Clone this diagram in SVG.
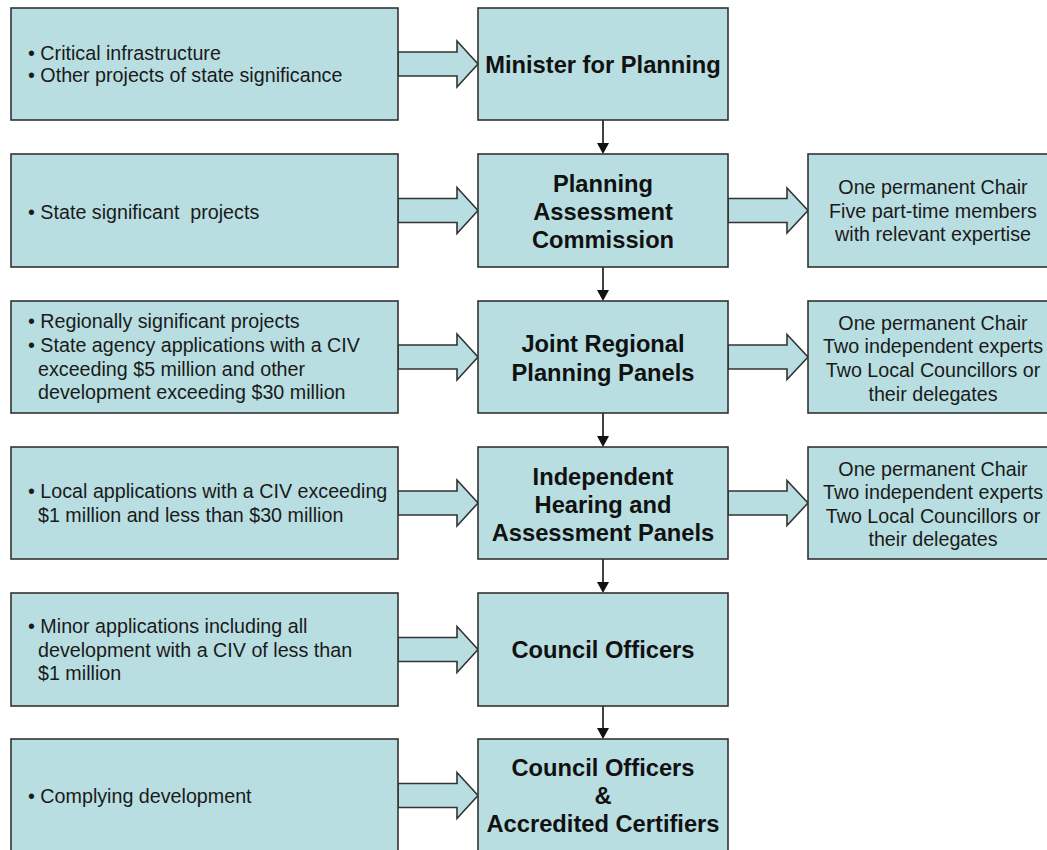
<svg xmlns="http://www.w3.org/2000/svg" width="1047" height="850" viewBox="0 0 1047 850">
<style>
.box{fill:#B8DEE1;stroke:#333;stroke-width:1.6}
.blk{fill:#B8DEE1;stroke:#333;stroke-width:1.6;stroke-linejoin:miter}
.ln{stroke:#111;stroke-width:1.6;fill:none}
.hd{fill:#111}
.t{font-family:"Liberation Sans",Arial,sans-serif;font-size:19.7px;fill:#1a1a1a}
.c{font-family:"Liberation Sans",Arial,sans-serif;font-size:23.7px;font-weight:bold;fill:#111;text-anchor:middle}
.r{font-family:"Liberation Sans",Arial,sans-serif;font-size:19.7px;fill:#1a1a1a;text-anchor:middle}
</style>
<rect width="1047" height="850" fill="#fff"/>
<g id="connectors">
<path class="blk" d="M398,52H457V41L478,64L457,87V76H398Z"/>
<path class="blk" d="M398,198.5H457V187.5L478,210.5L457,233.5V222.5H398Z"/>
<path class="blk" d="M398,345H457V334L478,357L457,380V369H398Z"/>
<path class="blk" d="M398,491H457V480L478,503L457,526V515H398Z"/>
<path class="blk" d="M398,637.5H457V626.5L478,649.5L457,672.5V661.5H398Z"/>
<path class="blk" d="M398,783.5H457V772.5L478,795.5L457,818.5V807.5H398Z"/>
<path class="blk" d="M728,198.5H787V188L808,210.5L787,233V222.5H728Z"/>
<path class="blk" d="M728,345H787V334.5L808,357L787,379.5V369H728Z"/>
<path class="blk" d="M728,491H787V480.5L808,503L787,525.5V515H728Z"/>
<line class="ln" x1="603" y1="120" x2="603" y2="143"/><polygon class="hd" points="597,143 609,143 603,154"/>
<line class="ln" x1="603" y1="267" x2="603" y2="290"/><polygon class="hd" points="597,290 609,290 603,301"/>
<line class="ln" x1="603" y1="413" x2="603" y2="436"/><polygon class="hd" points="597,436 609,436 603,447"/>
<line class="ln" x1="603" y1="559" x2="603" y2="582"/><polygon class="hd" points="597,582 609,582 603,593"/>
<line class="ln" x1="603" y1="706" x2="603" y2="728"/><polygon class="hd" points="597,728 609,728 603,739"/>
</g>
<g id="src1"><rect class="box" x="11" y="8" width="387" height="112"/>
<text class="t"><tspan x="28" y="60">• Critical infrastructure</tspan><tspan x="28" y="82.3">• Other projects of state significance</tspan></text></g>
<g id="src2"><rect class="box" x="11" y="154" width="387" height="113"/>
<text class="t" xml:space="preserve" style="white-space:pre"><tspan x="28" y="219">• State significant  projects</tspan></text></g>
<g id="src3"><rect class="box" x="11" y="301" width="387" height="112"/>
<text class="t"><tspan x="28" y="328.3">• Regionally significant projects</tspan><tspan x="28" y="351.7">• State agency applications with a CIV</tspan><tspan x="38" y="375.5">exceeding $5 million and other</tspan><tspan x="38" y="399">development exceeding $30 million</tspan></text></g>
<g id="src4"><rect class="box" x="11" y="447" width="387" height="112"/>
<text class="t"><tspan x="28" y="498">• Local applications with a CIV exceeding</tspan><tspan x="38" y="521.7">$1 million and less than $30 million</tspan></text></g>
<g id="src5"><rect class="box" x="11" y="593" width="387" height="113"/>
<text class="t"><tspan x="28" y="633">• Minor applications including all</tspan><tspan x="38" y="656.5">development with a CIV of less than</tspan><tspan x="38" y="680">$1 million</tspan></text></g>
<g id="src6"><rect class="box" x="11" y="739" width="387" height="120"/>
<text class="t"><tspan x="28" y="803">• Complying development</tspan></text></g>
<g id="minister"><rect class="box" x="478" y="8" width="250" height="112"/>
<text class="c" x="603" y="72.7">Minister for Planning</text></g>
<g id="pac"><rect class="box" x="478" y="154" width="250" height="113"/>
<text class="c"><tspan x="603" y="191.5">Planning</tspan><tspan x="603" y="219.5">Assessment</tspan><tspan x="603" y="247.5">Commission</tspan></text></g>
<g id="jrpp"><rect class="box" x="478" y="301" width="250" height="112"/>
<text class="c"><tspan x="603" y="352">Joint Regional</tspan><tspan x="603" y="381">Planning Panels</tspan></text></g>
<g id="ihap"><rect class="box" x="478" y="447" width="250" height="112"/>
<text class="c"><tspan x="603" y="485">Independent</tspan><tspan x="603" y="513">Hearing and</tspan><tspan x="603" y="541">Assessment Panels</tspan></text></g>
<g id="council"><rect class="box" x="478" y="593" width="250" height="113"/>
<text class="c" x="603" y="657.5">Council Officers</text></g>
<g id="certifiers"><rect class="box" x="478" y="739" width="250" height="120"/>
<text class="c"><tspan x="603" y="775.5">Council Officers</tspan><tspan x="603" y="803.5">&amp;</tspan><tspan x="603" y="832">Accredited Certifiers</tspan></text></g>
<g id="pac-members"><rect class="box" x="808" y="154" width="250" height="113"/>
<text class="r"><tspan x="933" y="194">One permanent Chair</tspan><tspan x="933" y="217.5">Five part-time members</tspan><tspan x="933" y="241">with relevant expertise</tspan></text></g>
<g id="jrpp-members"><rect class="box" x="808" y="301" width="250" height="112"/>
<text class="r"><tspan x="933" y="329.5">One permanent Chair</tspan><tspan x="933" y="353">Two independent experts</tspan><tspan x="933" y="377">Two Local Councillors or</tspan><tspan x="933" y="400.5">their delegates</tspan></text></g>
<g id="ihap-members"><rect class="box" x="808" y="447" width="250" height="112"/>
<text class="r"><tspan x="933" y="475.5">One permanent Chair</tspan><tspan x="933" y="499">Two independent experts</tspan><tspan x="933" y="522.5">Two Local Councillors or</tspan><tspan x="933" y="546">their delegates</tspan></text></g>
</svg>
